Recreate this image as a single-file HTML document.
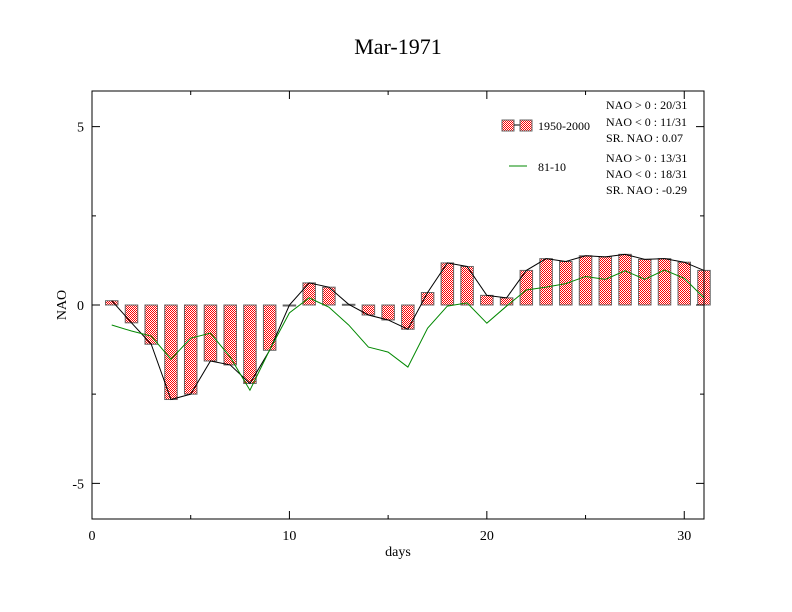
<!DOCTYPE html>
<html><head><meta charset="utf-8"><style>
body{margin:0;background:#fff}
svg{display:block;font-family:"Liberation Serif",serif}
</style></head><body>
<svg id="chart" width="792" height="612" viewBox="0 0 792 612">
<defs>
<pattern id="chk" width="2" height="2" patternUnits="userSpaceOnUse">
<rect width="2" height="2" fill="#fff"/><rect width="1" height="1" fill="#f00"/><rect x="1" y="1" width="1" height="1" fill="#f00"/>
</pattern>
</defs>
<rect width="792" height="612" fill="#fff"/>
<text x="398" y="54" font-size="22" text-anchor="middle">Mar-1971</text>
<g id="bars"></g>
<g id="lines"></g>
<rect x="92" y="91" width="612" height="428" fill="none" stroke="#000" stroke-width="1"/>
<g id="axes"></g>
<text x="398" y="556" font-size="14" text-anchor="middle">days</text>
<text x="66" y="305" font-size="14" text-anchor="middle" transform="rotate(-90 66 305)">NAO</text>
<g font-size="12">
<rect x="502" y="120" width="12" height="11" fill="url(#chk)" stroke="#666"/>
<line x1="514" y1="125" x2="520" y2="125" stroke="#000"/>
<rect x="520" y="120" width="12" height="11" fill="url(#chk)" stroke="#666"/>
<text x="538" y="130">1950-2000</text>
<line x1="509" y1="166" x2="527" y2="166" stroke="#080"/>
<text x="538" y="171">81-10</text>
<text x="606" y="109">NAO &gt; 0 : 20/31</text>
<text x="606" y="126">NAO &lt; 0 : 11/31</text>
<text x="606" y="142">SR. NAO :  0.07</text>
<text x="606" y="162">NAO &gt; 0 : 13/31</text>
<text x="606" y="178">NAO &lt; 0 : 18/31</text>
<text x="606" y="194">SR. NAO : -0.29</text>
</g>
</svg>
<script>
const days=[1,2,3,4,5,6,7,8,9,10,11,12,13,14,15,16,17,18,19,20,21,22,23,24,25,26,27,28,29,30,31];
const nao1950=[0.12,-0.5,-1.1,-2.65,-2.5,-1.57,-1.68,-2.2,-1.27,0,0.62,0.5,0.02,-0.28,-0.42,-0.68,0.35,1.18,1.08,0.27,0.2,0.97,1.3,1.22,1.38,1.35,1.42,1.28,1.3,1.2,0.97];
const nao8110=[-0.56,-0.73,-0.87,-1.52,-0.93,-0.79,-1.46,-2.39,-1.26,-0.22,0.2,-0.06,-0.56,-1.18,-1.32,-1.74,-0.65,-0.03,0.06,-0.51,-0.03,0.42,0.5,0.6,0.8,0.72,0.96,0.72,0.98,0.75,0.2];
const xTicks=[0,10,20,30];
const yTicks=[-5,0,5];
const NS="http://www.w3.org/2000/svg";
const X0=92,X1=704,Y0=519,Y1=91,xmin=0,xmax=31,ymin=-6,ymax=6;
function xs(v){return X0+(v-xmin)/(xmax-xmin)*(X1-X0);}
function ys(v){return Y0-(v-ymin)/(ymax-ymin)*(Y0-Y1);}
function mk(t,a,p){const e=document.createElementNS(NS,t);for(const k in a)e.setAttribute(k,a[k]);p.appendChild(e);return e;}
const bars=document.getElementById('bars'),lines=document.getElementById('lines'),axes=document.getElementById('axes');
const bw=12.5;
days.forEach((d,i)=>{
  const v=nao1950[i];const y0=ys(0),y1=ys(v);
  const r=mk('rect',{x:xs(d)-bw/2,y:Math.min(y0,y1),width:bw,height:Math.max(Math.abs(y1-y0),1),fill:'url(#chk)',stroke:'#666','stroke-width':1},bars);
  
  
});
const p1=mk('polyline',{points:days.map((d,i)=>xs(d)+','+ys(nao1950[i])).join(' '),fill:'none',stroke:'#000','stroke-width':1},lines);


const p2=mk('polyline',{points:days.map((d,i)=>xs(d)+','+ys(nao8110[i])).join(' '),fill:'none',stroke:'#080','stroke-width':1},lines);


xTicks.forEach(t=>{
  const x=xs(t);
  const l=mk('path',{d:`M${x} ${Y0}v-8M${x} ${Y1}v8`,stroke:'#000'},axes);
  
  
  const tx=mk('text',{x:x,y:Y0+21,'font-size':14,'text-anchor':'middle'},axes);tx.textContent=t;
  
  
});
for(let t=5;t<31;t+=10){const x=xs(t);const l=mk('path',{d:`M${x} ${Y0}v-4M${x} ${Y1}v4`,stroke:'#000'},axes);
  
  }
yTicks.forEach(t=>{
  const y=ys(t);
  const l=mk('path',{d:`M${X0} ${y}h8M${X1} ${y}h-8`,stroke:'#000'},axes);
  
  
  const tx=mk('text',{x:X0-8,y:y+5,'font-size':14,'text-anchor':'end'},axes);tx.textContent=t;
  
  
});
[-2.5,2.5].forEach(t=>{const y=ys(t);const l=mk('path',{d:`M${X0} ${y}h4M${X1} ${y}h-4`,stroke:'#000'},axes);
  
  });
</script>
</body></html>
